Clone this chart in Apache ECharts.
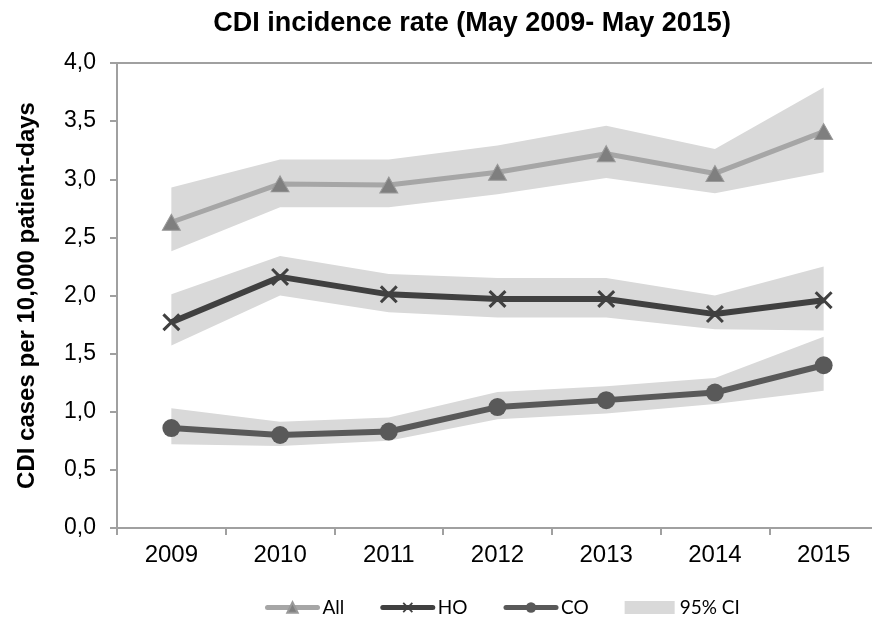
<!DOCTYPE html>
<html>
<head>
<meta charset="utf-8">
<script src="https://cdn.jsdelivr.net/npm/echarts@6/dist/echarts.min.js"></script>
<style>html,body{margin:0;padding:0;background:#fff}#c{width:872px;height:620px}</style>
</head>
<body>
<div id="c"></div>
<script>
const years = ['2009','2010','2011','2012','2013','2014','2015'];
const allRate = [2.63, 2.96, 2.95, 3.06, 3.22, 3.05, 3.41];
const allLo = [2.38, 2.76, 2.76, 2.87, 3.01, 2.88, 3.06];
const allHi = [2.93, 3.17, 3.17, 3.29, 3.46, 3.26, 3.79];
const hoRate = [1.77, 2.16, 2.01, 1.97, 1.97, 1.84, 1.96];
const hoLo = [1.57, 2.00, 1.855, 1.81, 1.81, 1.71, 1.70];
const hoHi = [2.01, 2.34, 2.185, 2.15, 2.15, 2.00, 2.25];
const coRate = [0.86, 0.80, 0.83, 1.04, 1.10, 1.165, 1.40];
const coLo = [0.72, 0.705, 0.75, 0.935, 0.985, 1.067, 1.18];
const coHi = [1.03, 0.915, 0.95, 1.17, 1.22, 1.29, 1.645];
const yTicks = [0, 0.5, 1, 1.5, 2, 2.5, 3, 3.5, 4];
const titleText = 'CDI incidence rate (May 2009- May 2015)';
const yName = 'CDI cases per 10,000 patient-days';

const BAND = '#d9d9d9';
function band(key, lo, hi) {
  return [
    { name: key + 'lo', type: 'line', stack: key, data: lo, symbol: 'none', silent: true,
      lineStyle: { opacity: 0 }, z: 1, legendHoverLink: false },
    { name: '95% CI', type: 'line', stack: key, data: hi.map((h, i) => +(h - lo[i]).toFixed(4)),
      symbol: 'none', silent: true, lineStyle: { opacity: 0 }, itemStyle: { color: BAND },
      areaStyle: { color: BAND, opacity: 1 }, z: 1 }
  ];
}
const xPath = 'path://M0,1.2L1.2,0L5,3.8L8.8,0L10,1.2L6.2,5L10,8.8L8.8,10L5,6.2L1.2,10L0,8.8L3.8,5Z';

const chart = echarts.init(document.getElementById('c'), null, { renderer: 'canvas' });
chart.setOption({
  animation: false,
  backgroundColor: '#fff',
  title: {
    text: titleText, left: 472, top: 10, textAlign: 'center', padding: 0,
    textStyle: { fontFamily: 'Liberation Sans, Arial', fontWeight: 'bold', fontSize: 27, color: '#000' }
  },
  legend: {
    left: 265, top: 598, padding: 0,
    itemWidth: 50, itemHeight: 13, itemGap: 36,
    textStyle: { fontFamily: 'Lato', fontSize: 19, color: '#000' },
    data: [
      { name: 'All', lineStyle: { width: 5, cap: 'round', color: '#a6a6a6' } },
      { name: 'HO', lineStyle: { width: 5, cap: 'round', color: '#404040' } },
      { name: 'CO', lineStyle: { width: 5, cap: 'round', color: '#595959' } },
      { name: '95% CI', icon: 'rect', itemStyle: { color: BAND } }
    ]
  },
  grid: { left: 117, top: 63, width: 761, bottom: 92, show: true, borderColor: '#a0a0a0', borderWidth: 2,
    containLabel: false, outerBoundsMode: 'none' },
  xAxis: {
    type: 'category', data: years, boundaryGap: true,
    axisLine: { lineStyle: { color: '#a0a0a0', width: 2 } },
    axisTick: { show: true, length: 7, lineStyle: { color: '#a0a0a0', width: 2 } },
    axisLabel: { fontFamily: 'Liberation Sans, Arial', fontSize: 24, color: '#000', margin: 15 },
    splitLine: { show: false }
  },
  yAxis: {
    type: 'value', min: 0, max: 4, interval: 0.5,
    name: yName, nameLocation: 'middle', nameGap: 78, nameRotate: 90,
    nameTextStyle: { fontFamily: 'Liberation Sans, Arial', fontWeight: 'bold', fontSize: 24, color: '#000' },
    axisLine: { show: true, lineStyle: { color: '#a0a0a0', width: 2 } },
    axisTick: { show: true, length: 7, lineStyle: { color: '#a0a0a0', width: 2 } },
    axisLabel: { fontFamily: 'Liberation Sans, Arial', fontSize: 23, color: '#000', margin: 21,
      formatter: v => yTicks.includes(v) ? v.toFixed(1).replace('.', ',') : '' },
    splitLine: { show: false }
  },
  series: [
    ...band('a', allLo, allHi),
    ...band('h', hoLo, hoHi),
    ...band('c', coLo, coHi),
    { name: 'All', type: 'line', data: allRate, z: 3,
      symbol: 'triangle', symbolSize: [18, 16],
      lineStyle: { color: '#a6a6a6', width: 5 },
      itemStyle: { color: '#7f7f7f', borderColor: '#999', borderWidth: 1 } },
    { name: 'HO', type: 'line', data: hoRate, z: 4,
      symbol: xPath, symbolSize: 18,
      lineStyle: { color: '#404040', width: 6 },
      itemStyle: { color: '#404040' } },
    { name: 'CO', type: 'line', data: coRate, z: 4,
      symbol: 'circle', symbolSize: 18,
      lineStyle: { color: '#595959', width: 6 },
      itemStyle: { color: '#595959' } }
  ]
});
</script>
</body>
</html>
